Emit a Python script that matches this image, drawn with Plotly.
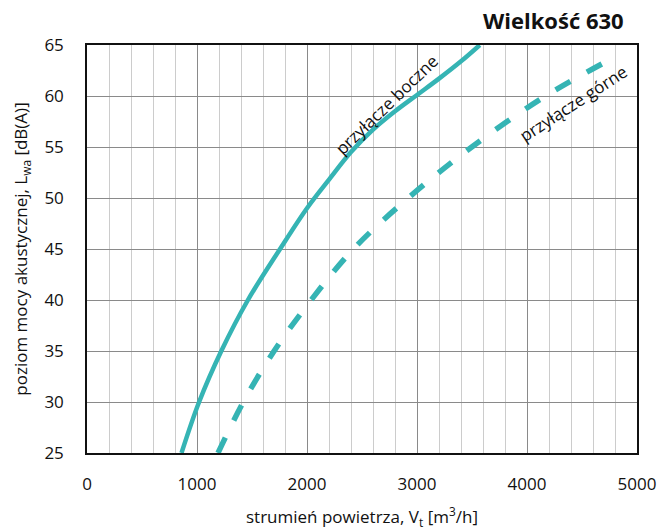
import plotly.graph_objects as go

# Sound power level (dB(A)) vs air flow (m3/h), size 630
flow_side = [859, 1019, 1221, 1463, 1755, 2000, 2200, 2400, 2600, 2800, 3000, 3200, 3400, 3571]
levels_side = [25, 30, 35, 40, 45, 49.0, 51.8, 54.5, 56.7, 58.5, 60.1, 61.7, 63.4, 65]

flow_top = [1191, 1421, 1701, 2038, 2422, 2921, 3498, 4169, 4804]
levels_top = [25, 30, 35, 40, 45, 50, 55, 60, 63.85]

x_ticks = [0, 1000, 2000, 3000, 4000, 5000]
y_ticks = [25, 30, 35, 40, 45, 50, 55, 60, 65]

label_side = "przyłącze boczne"
label_top = "przyłącze górne"
title_text = "Wielkość 630"

teal = "#35b4b4"
font_family = "Open Sans, Noto Sans, sans-serif"
fs = 17

fig = go.Figure()
fig.add_trace(go.Scatter(
    x=flow_side, y=levels_side, mode="lines",
    line=dict(color=teal, width=4.5, shape="spline", smoothing=1.0),
    hoverinfo="skip", showlegend=False,
))
fig.add_trace(go.Scatter(
    x=flow_top, y=levels_top, mode="lines",
    line=dict(color=teal, width=5.5, shape="spline", smoothing=1.0, dash="17px,19px"),
    hoverinfo="skip", showlegend=False,
))

fig.add_annotation(x=2721, y=59.2, text=label_side, showarrow=False,
                   textangle=-44, font=dict(size=fs, color="#111", family=font_family))
fig.add_annotation(x=4417, y=59.3, text=label_top, showarrow=False,
                   textangle=-33, font=dict(size=fs, color="#111", family=font_family))
fig.add_annotation(x=0.98, xref="paper", xanchor="right", y=1.061, yref="paper",
                   yanchor="middle", text="<b>" + title_text + "</b>", showarrow=False,
                   font=dict(size=22, color="#111", family=font_family))

fig.update_xaxes(
    range=[0, 5000], tickvals=x_ticks, ticktext=[str(v) for v in x_ticks],
    showgrid=True, gridcolor="#8a8a8a", gridwidth=1,
    minor=dict(dtick=200, tick0=0, showgrid=True, gridcolor="#cccccc", gridwidth=1),
    showline=True, linecolor="#111", linewidth=1.5, mirror=True,
    ticks="", ticklabelstandoff=15, zeroline=False, automargin=False,
    tickfont=dict(size=fs, color="#111", family=font_family),
    title=dict(text="strumień powietrza, V<sub>t</sub> [m<sup>3</sup>/h]",
               font=dict(size=fs, color="#111", family=font_family), standoff=17),
)
fig.update_yaxes(
    range=[25, 65], tickvals=y_ticks,
    showgrid=True, gridcolor="#8a8a8a", gridwidth=1,
    showline=True, linecolor="#111", linewidth=1.5, mirror=True,
    ticks="", ticklabelstandoff=18, zeroline=False, automargin=False,
    tickfont=dict(size=fs, color="#111", family=font_family),
    title=dict(text="poziom mocy akustycznej, L<sub>wa</sub> [dB(A)]",
               font=dict(size=fs, color="#111", family=font_family), standoff=12),
)

fig.update_layout(
    width=660, height=531,
    margin=dict(l=87, r=23, t=45, b=78),
    paper_bgcolor="white", plot_bgcolor="white",
    font=dict(family=font_family, color="#111"),
)

fig.write_html("out.html")
